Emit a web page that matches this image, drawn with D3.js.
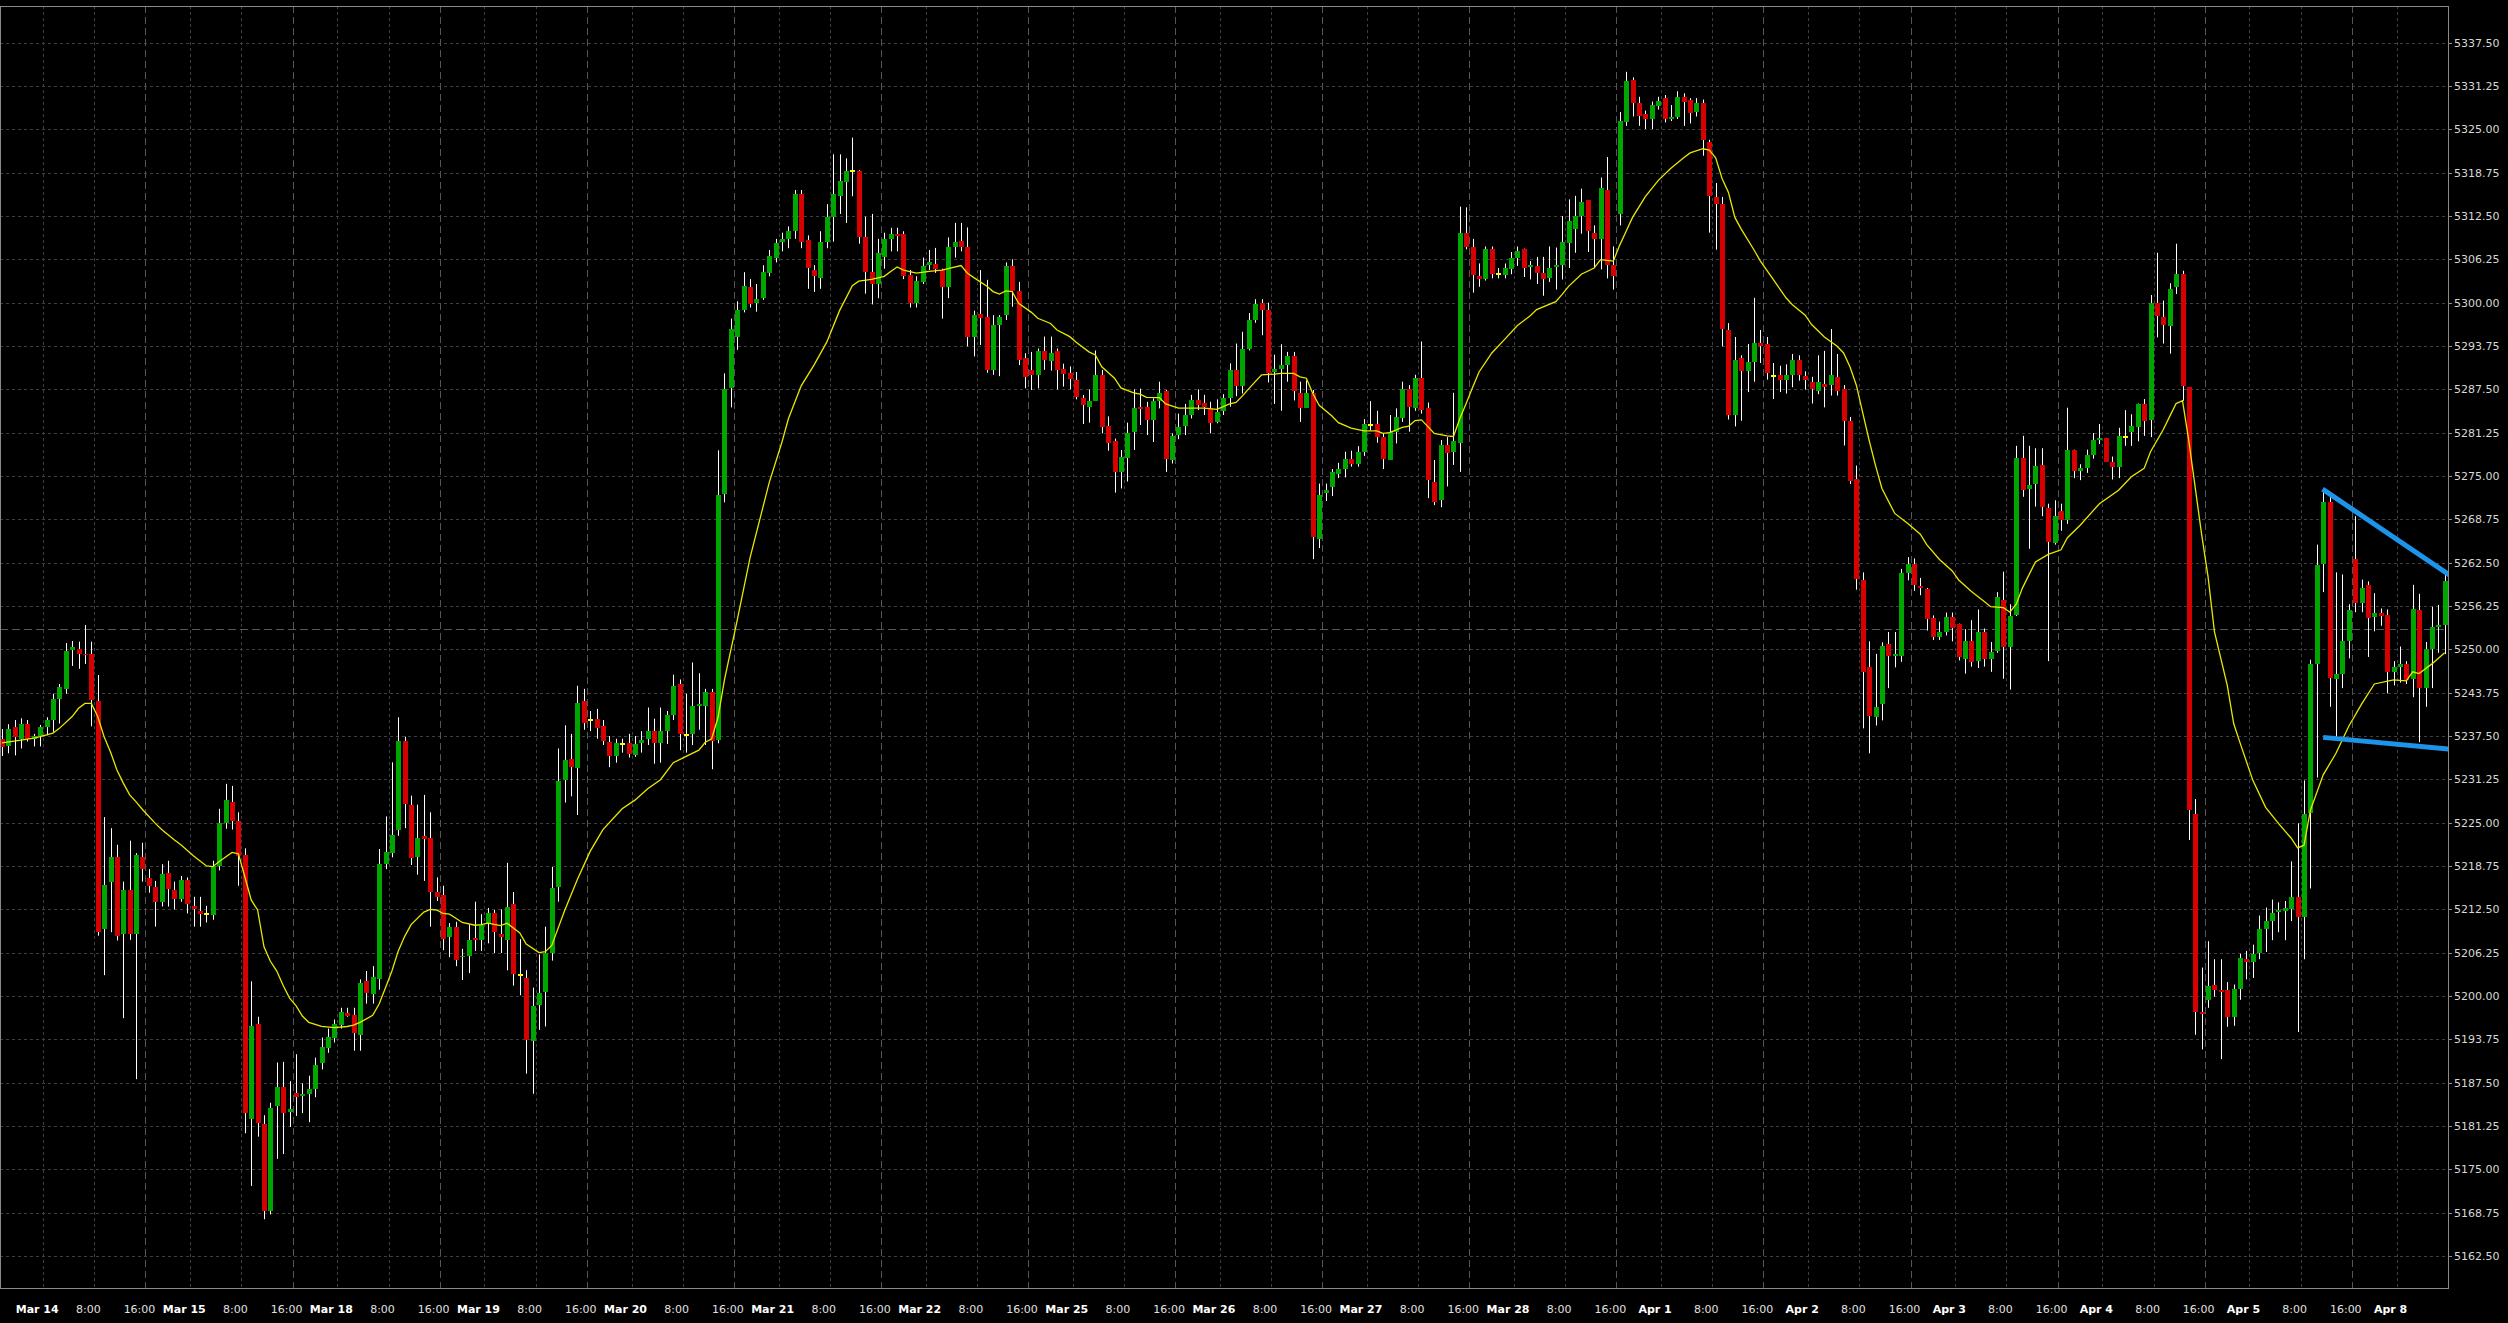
<!DOCTYPE html>
<html><head><meta charset="utf-8">
<script src="https://cdn.jsdelivr.net/npm/d3@7"></script>
<style>html,body{margin:0;padding:0;background:#000;overflow:hidden}svg{display:block}</style>
</head><body>
<script>
// ---------------- DATA (H1 candles) ----------------
const opens = [
5237.0,5236.1,5238.8,5237.1,5239.2,5237.1,5237.5,5238.8,5239.8,5242.8,
5244.3,5249.8,5250.0,5249.3,5249.3,5242.6,5209.6,5216.4,5220.0,5208.9,
5215.3,5208.9,5220.0,5217.0,5215.7,5213.6,5217.7,5215.3,5214.0,5216.7,
5213.0,5212.3,5211.8,5211.7,5218.75,5225.0,5228.0,5225.3,5220.3,5182.2,
5195.9,5181.6,5169.0,5184.0,5186.8,5183.2,5186.0,5185.6,5185.9,5186.6,
5190.3,5192.5,5193.9,5195.8,5197.6,5197.2,5194.3,5202.1,5200.3,5202.4,
5219.0,5220.6,5223.9,5236.8,5227.6,5220.0,5223.1,5222.8,5215.0,5214.6,
5208.6,5210.0,5205.5,5205.8,5208.3,5208.1,5210.3,5211.9,5208.9,5208.2,
5213.2,5203.0,5202.6,5193.5,5198.8,5200.6,5206.2,5215.6,5231.2,5234.2,
5232.8,5242.5,5239.8,5240.0,5238.9,5236.6,5234.6,5236.4,5236.45,5234.8,
5236.5,5237.1,5238.2,5236.45,5238.2,5240.5,5245.0,5237.7,5237.8,5241.8,
5241.8,5243.85,5236.8,5272.5,5287.6,5295.05,5299.0,5302.3,5300.0,5300.6,
5304.4,5306.5,5308.8,5309.2,5310.3,5315.7,5309.0,5304.7,5303.6,5308.8,
5312.4,5315.35,5317.3,5318.95,5318.95,5309.5,5304.4,5302.7,5306.6,5309.2,
5309.85,5309.85,5304.0,5299.9,5303.1,5305.5,5305.6,5304.7,5302.3,5308.05,
5308.9,5308.05,5295.05,5298.4,5297.9,5290.3,5296.8,5298.2,5305.3,5301.7,
5292.0,5290.3,5289.6,5293.0,5291.7,5293.0,5290.4,5289.8,5288.9,5286.2,
5285.0,5285.8,5289.6,5282.2,5280.05,5275.6,5277.7,5281.25,5284.9,5284.9,
5283.0,5285.8,5287.2,5277.4,5280.8,5282.2,5283.8,5286.0,5285.5,5284.75,
5282.8,5284.3,5286.2,5290.3,5288.0,5293.3,5297.5,5299.9,5298.95,5289.9,
5290.4,5291.0,5292.3,5287.0,5284.9,5287.0,5265.9,5272.6,5273.4,5275.3,
5276.0,5277.4,5276.7,5278.5,5282.35,5282.5,5280.6,5277.4,5281.4,5283.3,
5287.5,5284.9,5289.2,5284.75,5274.2,5271.6,5279.5,5278.5,5279.8,5310.1,
5308.0,5303.8,5303.5,5307.8,5304.1,5304.0,5304.8,5306.45,5307.8,5305.1,
5305.3,5304.3,5303.5,5305.1,5305.45,5308.6,5310.6,5312.5,5314.8,5310.1,
5309.2,5316.25,5305.45,5312.8,5326.0,5332.15,5328.8,5327.2,5326.5,5328.5,
5329.5,5326.5,5326.85,5329.7,5329.2,5327.5,5328.8,5323.2,5315.25,5314.3,
5296.05,5283.8,5291.95,5290.1,5291.4,5294.2,5294.05,5289.4,5289.55,5288.8,
5289.55,5291.75,5289.4,5288.6,5287.3,5288.2,5288.1,5289.3,5287.6,5282.95,
5274.5,5259.95,5247.4,5240.3,5242.1,5250.7,5249.05,5249.05,5260.95,5262.3,
5259.1,5258.65,5254.5,5251.8,5252.5,5254.7,5253.7,5248.5,5251.2,5248.3,
5252.5,5248.6,5249.65,5257.15,5250.4,5255.0,5277.65,5273.1,5273.9,5276.6,
5270.45,5265.3,5270.0,5268.65,5278.8,5275.7,5276.1,5278.0,5280.15,5280.5,
5277.0,5276.3,5280.6,5281.4,5282.2,5285.45,5283.0,5299.9,5298.0,5296.6,
5302.3,5304.1,5287.8,5226.2,5197.65,5199.4,5201.65,5200.9,5200.9,5197.0,
5201.0,5205.3,5204.9,5206.1,5209.6,5210.8,5212.1,5212.35,5212.6,5214.3,
5211.35,5226.4,5247.9,5262.2,5271.2,5245.75,5246.5,5251.2,5263.0,5256.7,
5259.3,5254.6,5255.2,5254.95,5246.8,5247.5,5247.9,5245.6,5255.6,5244.4,
5250.05,5253.25,5253.6];
const highs = [
5238.5,5239.2,5239.8,5240.05,5239.8,5237.8,5239.1,5240.2,5243.6,5245.0,
5250.9,5251.2,5251.1,5253.5,5251.1,5246.3,5225.8,5224.2,5221.8,5216.5,
5222.4,5220.6,5222.1,5218.3,5216.6,5219.0,5219.5,5216.5,5217.3,5217.1,
5214.3,5214.3,5213.0,5219.5,5227.0,5230.6,5230.3,5226.5,5221.3,5202.1,
5197.0,5182.8,5184.6,5190.4,5190.5,5187.7,5191.6,5187.4,5188.5,5191.1,
5194.0,5195.3,5196.6,5198.3,5198.3,5198.3,5202.4,5203.6,5204.3,5221.2,
5225.9,5233.7,5240.2,5237.4,5228.9,5227.6,5229.0,5226.5,5217.1,5215.9,
5210.5,5210.7,5206.8,5210.3,5213.6,5211.8,5212.7,5212.4,5212.5,5219.2,
5215.0,5208.2,5203.7,5201.2,5206.0,5210.0,5218.6,5235.7,5239.05,5237.8,
5244.75,5244.3,5241.1,5241.4,5239.8,5237.5,5237.1,5237.1,5237.8,5237.5,
5238.2,5241.6,5240.0,5241.6,5241.1,5246.35,5245.65,5243.6,5248.1,5246.55,
5244.3,5244.3,5278.7,5289.8,5297.7,5300.2,5304.4,5303.4,5302.7,5305.4,
5307.6,5309.2,5310.1,5311.0,5316.25,5316.25,5309.7,5305.4,5310.3,5314.2,
5321.4,5321.4,5320.8,5323.8,5319.1,5312.4,5312.8,5309.2,5310.1,5310.8,
5310.8,5310.3,5304.7,5303.8,5306.5,5307.6,5307.9,5304.9,5309.4,5311.5,
5311.5,5310.85,5298.85,5304.7,5303.3,5298.2,5298.2,5305.8,5306.25,5303.0,
5292.7,5292.9,5293.4,5295.1,5295.1,5293.4,5291.2,5290.8,5290.0,5286.7,
5287.5,5293.1,5290.3,5283.6,5280.4,5278.75,5282.7,5287.5,5287.6,5285.7,
5286.2,5288.6,5287.4,5281.15,5284.0,5285.4,5286.7,5287.5,5286.7,5285.7,
5286.05,5286.8,5291.25,5294.1,5295.8,5298.5,5300.5,5300.5,5300.0,5292.5,
5294.0,5292.9,5292.9,5288.6,5288.8,5287.4,5273.9,5273.9,5276.0,5276.9,
5278.5,5278.65,5279.3,5283.2,5285.8,5284.4,5281.2,5283.8,5284.75,5288.6,
5288.1,5289.6,5294.4,5285.6,5277.3,5280.2,5280.6,5287.0,5313.85,5313.75,
5309.2,5305.65,5308.1,5308.1,5305.0,5305.65,5307.3,5308.1,5307.8,5306.0,
5306.6,5306.6,5308.1,5307.95,5312.5,5314.9,5315.4,5316.45,5314.8,5311.15,
5318.05,5321.0,5308.1,5327.5,5333.3,5332.5,5329.7,5327.7,5329.0,5329.7,
5329.95,5328.5,5330.5,5330.2,5329.5,5329.5,5329.3,5323.5,5317.25,5315.25,
5297.05,5295.05,5292.4,5294.05,5300.7,5296.05,5295.05,5291.3,5290.9,5291.1,
5292.6,5292.4,5290.1,5289.3,5292.4,5293.05,5296.2,5292.6,5288.1,5283.5,
5276.5,5261.1,5251.15,5249.35,5251.0,5252.5,5252.5,5261.6,5263.3,5263.1,
5260.3,5258.85,5254.9,5254.0,5255.3,5255.3,5253.7,5252.9,5254.2,5255.75,
5253.0,5251.05,5258.25,5261.2,5256.5,5279.35,5280.8,5279.35,5279.0,5279.0,
5271.0,5271.5,5271.0,5284.85,5278.8,5276.7,5278.8,5281.2,5282.5,5280.5,
5277.8,5281.95,5284.5,5283.9,5285.45,5286.1,5301.1,5307.2,5300.3,5302.8,
5308.5,5304.6,5287.8,5228.4,5204.1,5207.9,5205.3,5205.3,5202.0,5201.65,
5206.1,5206.5,5207.4,5211.6,5212.75,5213.9,5213.5,5213.7,5219.4,5224.9,
5231.1,5248.5,5265.1,5272.95,5272.3,5261.1,5260.8,5256.5,5269.2,5260.05,
5259.8,5258.1,5255.9,5255.75,5248.3,5250.4,5248.3,5259.3,5258.0,5251.05,
5256.15,5256.4,5260.7];
const lows = [
5234.6,5235.0,5234.7,5235.7,5236.7,5236.0,5236.0,5237.6,5238.1,5239.3,
5243.6,5247.6,5247.2,5247.9,5238.9,5208.7,5203.0,5209.2,5208.0,5196.8,
5208.1,5188.0,5216.5,5214.9,5210.0,5212.9,5212.9,5212.5,5213.6,5211.9,
5210.0,5210.0,5210.6,5211.0,5218.1,5224.1,5224.0,5215.9,5180.2,5172.6,
5179.7,5167.8,5168.5,5176.5,5177.2,5181.1,5182.7,5183.1,5181.8,5185.4,
5189.4,5191.8,5193.3,5195.3,5197.0,5192.1,5192.1,5198.9,5198.9,5200.9,
5218.3,5220.0,5223.1,5224.2,5218.9,5217.5,5216.6,5210.0,5213.7,5206.6,
5205.6,5204.3,5202.3,5203.3,5206.5,5206.5,5207.6,5206.2,5206.2,5203.7,
5201.5,5200.1,5188.8,5185.9,5195.1,5195.6,5205.1,5213.6,5227.9,5228.8,
5226.1,5238.4,5238.2,5237.1,5236.2,5233.0,5233.65,5235.1,5234.4,5234.5,
5235.1,5236.2,5233.5,5233.65,5236.35,5239.8,5235.45,5235.1,5236.2,5238.4,
5236.2,5232.7,5236.45,5271.2,5284.9,5293.2,5298.6,5299.3,5298.7,5300.4,
5303.8,5305.8,5307.4,5307.85,5309.2,5307.85,5302.0,5301.55,5302.0,5307.85,
5308.8,5312.8,5311.5,5315.35,5308.5,5301.3,5299.75,5300.65,5304.9,5307.4,
5307.4,5303.4,5299.3,5299.3,5302.7,5304.7,5304.3,5297.7,5300.65,5306.5,
5307.4,5293.7,5292.25,5293.9,5289.9,5289.6,5289.4,5297.5,5299.4,5291.0,
5287.65,5287.4,5287.65,5290.3,5290.2,5287.5,5287.9,5287.5,5286.05,5282.5,
5282.7,5285.8,5281.15,5278.65,5272.6,5273.2,5274.2,5278.75,5282.35,5280.9,
5279.9,5284.75,5275.6,5276.8,5280.3,5280.9,5283.3,5284.5,5283.8,5281.15,
5282.6,5283.8,5285.0,5286.5,5286.9,5293.1,5297.1,5295.3,5288.5,5285.4,
5284.4,5288.6,5285.9,5282.8,5284.9,5263.0,5264.6,5271.4,5272.1,5274.7,
5274.8,5276.35,5276.35,5277.9,5281.6,5279.8,5276.0,5277.4,5279.7,5282.8,
5281.4,5284.4,5284.0,5271.8,5270.8,5270.5,5273.5,5276.6,5275.6,5307.7,
5301.45,5302.3,5303.2,5303.5,5303.5,5303.5,5304.1,5305.3,5303.7,5303.35,
5302.7,5301.0,5303.0,5301.9,5303.35,5305.0,5307.2,5309.95,5307.3,5305.0,
5304.8,5303.5,5301.9,5311.15,5325.5,5326.85,5325.5,5325.05,5325.05,5327.85,
5326.0,5326.2,5326.5,5325.5,5325.85,5326.85,5321.2,5310.1,5307.65,5293.7,
5283.15,5282.15,5282.95,5287.1,5288.6,5291.3,5288.9,5286.1,5287.1,5286.9,
5287.8,5288.75,5287.45,5285.45,5286.8,5284.9,5286.6,5286.6,5279.4,5273.85,
5258.6,5238.6,5235.0,5239.0,5239.75,5244.4,5247.4,5248.2,5259.95,5258.45,
5257.8,5252.7,5251.35,5251.35,5252.0,5251.15,5248.4,5246.5,5247.5,5247.3,
5247.5,5246.75,5249.5,5245.75,5244.2,5254.8,5272.0,5264.5,5270.6,5269.2,
5248.3,5265.1,5267.1,5268.1,5274.7,5274.4,5275.45,5277.5,5279.6,5277.0,
5274.5,5274.7,5279.35,5279.35,5280.0,5280.8,5280.6,5295.0,5294.1,5292.65,
5301.25,5285.85,5222.5,5194.4,5192.3,5198.3,5199.9,5190.9,5195.55,5195.7,
5199.45,5202.4,5202.6,5205.3,5206.35,5208.05,5209.2,5208.05,5210.8,5194.8,
5205.3,5215.5,5231.5,5258.25,5241.7,5237.4,5244.4,5248.7,5255.35,5255.35,
5248.9,5252.6,5253.4,5243.65,5244.8,5245.2,5245.0,5243.1,5236.6,5241.7,
5244.4,5249.5,5249.3];
const closes = [
5235.9,5238.5,5237.3,5239.2,5237.1,5237.5,5238.8,5239.8,5242.8,5244.5,
5249.8,5250.3,5249.3,5249.1,5242.6,5209.3,5216.0,5220.0,5208.6,5215.3,
5208.9,5220.3,5218.2,5215.8,5213.6,5217.6,5215.45,5214.0,5216.7,5213.3,
5212.6,5211.9,5211.8,5218.75,5224.9,5228.3,5225.3,5220.2,5183.1,5195.6,
5181.6,5169.0,5183.8,5186.8,5183.1,5183.7,5185.4,5185.9,5186.6,5190.1,
5192.6,5194.1,5195.9,5197.7,5197.2,5194.6,5201.8,5200.3,5202.7,5219.0,
5220.8,5223.2,5236.8,5227.7,5220.0,5222.8,5222.6,5215.0,5214.3,5208.3,
5210.0,5205.2,5205.7,5208.1,5208.0,5210.3,5211.9,5209.1,5208.4,5212.9,
5203.1,5203.0,5193.6,5198.5,5200.5,5206.2,5215.6,5230.95,5234.1,5233.0,
5242.2,5239.3,5239.8,5238.7,5236.8,5234.6,5236.45,5236.4,5234.8,5236.35,
5236.9,5238.2,5236.45,5238.2,5240.5,5244.75,5237.8,5237.7,5241.8,5242.05,
5243.85,5236.8,5272.2,5287.6,5296.15,5299.0,5302.45,5299.9,5300.6,5304.4,
5306.8,5308.6,5309.2,5310.3,5315.7,5308.8,5305.0,5303.8,5308.8,5312.4,
5315.7,5317.5,5318.95,5318.95,5309.5,5304.4,5302.7,5307.2,5309.2,5309.85,
5309.5,5303.8,5299.9,5303.1,5305.35,5305.9,5304.9,5302.3,5308.05,5308.8,
5308.05,5295.05,5298.2,5297.8,5290.3,5296.8,5298.0,5305.3,5301.7,5291.8,
5289.3,5289.6,5293.0,5291.7,5292.8,5290.3,5289.7,5288.9,5286.5,5285.2,
5285.8,5289.6,5282.1,5279.8,5275.6,5277.7,5281.25,5284.75,5284.6,5283.0,
5285.8,5287.0,5277.4,5280.8,5282.0,5283.8,5286.0,5285.25,5284.9,5282.6,
5284.3,5286.2,5290.3,5288.0,5293.3,5297.5,5299.8,5298.85,5289.8,5290.4,
5291.0,5292.3,5287.3,5284.9,5287.0,5266.2,5272.3,5273.0,5275.6,5276.0,
5277.4,5276.7,5278.5,5282.5,5282.35,5280.6,5277.4,5281.4,5283.5,5287.5,
5284.9,5289.2,5284.6,5274.3,5271.3,5279.5,5278.4,5280.1,5310.1,5308.1,
5303.9,5303.35,5307.8,5304.2,5304.1,5305.0,5306.45,5307.45,5305.0,5305.4,
5304.3,5303.5,5305.0,5305.4,5308.8,5311.8,5312.5,5314.5,5310.3,5309.2,
5316.6,5305.45,5303.8,5326.2,5331.95,5328.8,5326.95,5326.5,5328.5,5329.15,
5326.5,5326.85,5329.7,5329.0,5327.3,5328.8,5323.5,5315.4,5314.3,5296.2,
5283.8,5291.75,5290.1,5291.4,5294.2,5293.75,5289.8,5289.4,5288.8,5289.55,
5291.75,5289.55,5288.8,5287.6,5288.6,5287.8,5289.55,5287.3,5282.95,5274.3,
5260.1,5246.7,5240.3,5241.75,5250.5,5248.9,5249.3,5260.95,5262.3,5259.3,
5258.85,5254.35,5251.8,5252.5,5254.7,5253.15,5248.9,5251.15,5248.1,5252.5,
5248.6,5249.65,5257.5,5250.4,5254.8,5277.65,5273.1,5273.7,5276.5,5270.6,
5265.5,5269.2,5268.65,5278.8,5275.7,5276.1,5278.0,5280.15,5280.5,5277.0,
5276.3,5280.8,5280.6,5282.2,5285.45,5282.95,5299.9,5298.0,5296.8,5302.0,
5304.2,5288.0,5226.8,5197.65,5197.3,5201.4,5201.0,5200.6,5197.0,5201.0,
5205.45,5204.9,5206.1,5209.6,5210.8,5211.95,5212.35,5212.75,5214.3,5211.35,
5226.2,5247.9,5262.2,5271.2,5245.75,5246.5,5251.2,5255.6,5256.7,5258.9,
5254.6,5255.2,5254.8,5246.8,5247.5,5247.9,5245.6,5255.75,5244.4,5250.05,
5253.25,5253.5,5259.9];

// Moving average (yellow line) at these bars
const maBars = [0,3,5,6,8,9,11,12,13,14,15,16,17,18,19,20,21,22,24,25,27,28,30,32,33,34,36,37,38,39,
40,41,42,43,44,45,46,47,48,50,52,54,55,56,58,59,60,61,62,63,64,66,67,68,69,70,71,72,74,75,76,78,79,81,82,84,85,86,88,
90,92,94,97,99,101,103,105,107,109,110,111,112,113,115,117,120,122,123,125,127,129,131,133,134,136,138,139,140,141,143,145,147,150,151,
153,154,155,156,157,158,159,161,162,164,165,167,168,170,171,172,174,175,177,178,179,181,182,184,186,188,190,192,193,194,195,197,199,200,202,203,204,
205,206,208,209,211,213,215,216,217,219,220,221,222,224,226,227,228,229,230,231,233,235,237,239,240,243,244,245,247,249,250,252,253,254,255,257,259,
261,263,264,266,267,268,269,270,271,272,274,275,277,279,280,282,283,285,287,288,289,290,291,292,293,294,296,298,300,301,303,305,306,308,310,311,312,
313,314,315,316,318,320,322,323,325,328,331,333,335,336,338,339,340,341,342,344,345,346,348,349,350,352,354,356,358,359,360,361,363,365,367,369,371,
374,376,377,378,380,382];
const maValues = [5236.5,5236.9,5237.2,5237.4,5237.9,5238.6,5240.3,5241.5,5242.2,5242.2,5240.3,5237.4,5235.2,5232.6,5230.7,5229.0,5228.0,5226.9,5224.9,5224.0,5222.5,5221.8,5220.2,5218.75,5218.65,5219.4,5220.7,5220.5,5217.2,5213.85,
5212.4,5207.1,5205.0,5203.6,5201.5,5199.7,5198.6,5197.1,5196.2,5195.6,5195.45,5195.6,5195.8,5196.2,5197.2,5198.85,5201.2,5203.6,5206.5,5208.6,5210.3,5212.1,5212.5,5212.4,5211.9,5211.8,5211.2,5210.6,5210.2,5210.3,5210.5,5210.15,5210.5,5209.1,5207.5,5206.25,5206.4,5207.3,5212.3,
5216.8,5220.85,5224.0,5227.0,5228.25,5229.9,5231.2,5233.65,5234.55,5235.45,5236.6,5237.1,5240.2,5245.6,5254.2,5263.2,5274.05,5279.9,5283.25,5288.0,5291.0,5294.3,5298.85,5302.45,5303.1,5303.35,5303.8,5304.5,5305.15,5304.7,5304.25,5304.5,5304.7,5305.35,5304.25,
5303.0,5302.4,5301.6,5301.25,5301.7,5301.6,5299.9,5298.6,5297.75,5297.0,5296.05,5295.1,5294.3,5292.9,5292.45,5290.75,5289.1,5287.7,5287.0,5286.8,5286.35,5286.3,5285.4,5284.8,5284.8,5284.8,5284.6,5285.4,5285.6,5286.55,5287.6,5289.6,5289.7,5289.8,5289.8,5289.3,5289.1,
5286.9,5285.2,5283.65,5282.7,5281.9,5281.5,5281.5,5281.15,5281.25,5282.0,5282.2,5283.0,5283.1,5281.15,5280.8,5280.7,5283.3,5285.5,5287.8,5290.0,5292.75,5294.7,5296.7,5298.1,5299.0,5300.15,5301.2,5302.35,5304.1,5305.0,5306.2,5306.0,5308.3,5310.3,5312.3,5315.3,5317.6,
5319.4,5320.9,5321.6,5322.2,5322.0,5320.9,5317.9,5315.9,5312.3,5310.6,5307.6,5306.0,5303.35,5300.7,5299.7,5298.2,5296.85,5295.05,5293.7,5292.75,5290.75,5288.1,5284.1,5280.15,5276.5,5273.2,5269.6,5268.2,5266.6,5265.1,5262.95,5261.3,5260.0,5258.35,5256.9,5256.15,5256.1,
5256.0,5255.35,5256.5,5258.9,5262.6,5263.7,5264.35,5266.1,5267.9,5271.0,5272.95,5274.9,5276.1,5278.5,5281.7,5283.6,5285.45,5285.85,5280.0,5266.5,5260.45,5252.5,5244.8,5239.3,5236.5,5231.1,5227.2,5224.9,5222.75,5221.35,5221.75,5226.8,5231.9,5235.0,5238.9,5242.1,5245.0,
5245.6,5245.45,5246.75,5246.5,5247.9,5249.5];

// Axis labels
const priceTicks = [5162.50,5168.75,5175.00,5181.25,5187.50,5193.75,5200.00,5206.25,5212.50,5218.75,5225.00,5231.25,5237.50,5243.75,5250.00,5256.25,5262.50,5268.75,5275.00,5281.25,5287.50,5293.75,5300.00,5306.25,5312.50,5318.75,5325.00,5331.25,5337.50];
const dayLabels = ["Mar 14","Mar 15","Mar 18","Mar 19","Mar 20","Mar 21","Mar 22","Mar 25","Mar 26","Mar 27","Mar 28","Apr 1","Apr 2","Apr 3","Apr 4","Apr 5","Apr 8"];
const hourLabels = ["8:00","16:00"];
const hourBarOffsets = [8,16];
const firstDayBar = 6;      // bar index of "Mar 14" 0:00
const barsPerDay = 23;      // 23 hourly bars per trading day

// Drawn objects (bar index, price)
const upperLineBars = [362.9, 382.8], upperLinePrices = [5273.1, 5260.7];
const lowerLineBars = [363.0, 382.8], lowerLinePrices = [5237.3, 5235.6];
const hLineLevel = 5253.0;

// ---------------- DRAWING ----------------
const W = 2508, H = 1323;
const P = {left:0, right:2448, top:6, bottom:1288};
const svg = d3.select("body").append("svg").attr("width", W).attr("height", H)
  .style("background", "#000");

const n = opens.length;
const x = d3.scaleLinear().domain([0, 382]).range([1.8, 2444.7]);
const y = d3.scaleLinear().domain([5157.88, 5342.79]).range([P.bottom, P.top]);

svg.append("defs").append("clipPath").attr("id","plot")
  .append("rect").attr("x",P.left).attr("y",P.top).attr("width",P.right-P.left).attr("height",P.bottom-P.top);

// time label positions
const timeMarks = [];
dayLabels.forEach((d, k) => {
  const b0 = firstDayBar + k*barsPerDay;
  timeMarks.push({bar:b0, text:d, bold:true, sep:false});
  hourLabels.forEach((h, j) => timeMarks.push({bar:b0+hourBarOffsets[j], text:h, bold:false, sep: h==="16:00"}));
});
const visMarks = timeMarks.filter(m => m.bar >= 0 && m.bar <= 378);

const grid = svg.append("g");
// horizontal grid
grid.selectAll("line.h").data(priceTicks).join("line")
  .attr("x1", P.left).attr("x2", P.right)
  .attr("y1", d => Math.round(y(d)) + 0.5).attr("y2", d => Math.round(y(d)) + 0.5)
  .attr("stroke", "#3f3f3f").attr("stroke-width", 1).attr("stroke-dasharray", "3,3");
// vertical grid
grid.selectAll("line.v").data(visMarks).join("line")
  .attr("x1", d => Math.round(x(d.bar) + 3) + 0.5).attr("x2", d => Math.round(x(d.bar) + 3) + 0.5)
  .attr("y1", P.top).attr("y2", P.bottom)
  .attr("stroke", d => d.sep ? "#555" : "#3f3f3f").attr("stroke-width", 1)
  .attr("stroke-dasharray", d => d.sep ? "7,4" : "3,3");
// horizontal level line
grid.append("line").attr("x1", P.left).attr("x2", P.right)
  .attr("y1", Math.round(y(hLineLevel)) + 0.5).attr("y2", Math.round(y(hLineLevel)) + 0.5)
  .attr("stroke", "#585858").attr("stroke-width", 1).attr("stroke-dasharray", "8,4");

const plot = svg.append("g").attr("clip-path", "url(#plot)");
const idx = d3.range(n);

// wicks
plot.append("g").selectAll("line").data(idx).join("line")
  .attr("x1", i => Math.round(x(i)) + 0.5).attr("x2", i => Math.round(x(i)) + 0.5)
  .attr("y1", i => y(highs[i])).attr("y2", i => y(lows[i]))
  .attr("stroke", "#ffffff").attr("stroke-width", 1);

// bodies
const bw = 5;
const nonDoji = idx.filter(i => opens[i] !== closes[i]);
const doji = idx.filter(i => opens[i] === closes[i]);
plot.append("g").selectAll("rect").data(nonDoji).join("rect")
  .attr("x", i => Math.round(x(i)) - 2)
  .attr("width", bw)
  .attr("y", i => Math.round(y(Math.max(opens[i], closes[i]))))
  .attr("height", i => Math.max(1, Math.round(Math.abs(y(opens[i]) - y(closes[i])))))
  .attr("fill", i => closes[i] > opens[i] ? "#00a600" : "#d60000");
plot.append("g").selectAll("rect").data(doji).join("rect")
  .attr("x", i => Math.round(x(i)) - 2).attr("width", bw)
  .attr("y", i => Math.round(y(opens[i])) - 1).attr("height", 2)
  .attr("fill", "#ffff00");

// moving average
const maLine = d3.line().x((d, k) => x(maBars[k])).y(d => y(d));
plot.append("path").attr("d", maLine(maValues))
  .attr("fill", "none").attr("stroke", "#e8e800").attr("stroke-width", 1.3);

// trend lines
[[upperLineBars, upperLinePrices],[lowerLineBars, lowerLinePrices]].forEach(([bs, ps]) => {
  plot.append("line")
    .attr("x1", x(bs[0])).attr("y1", y(ps[0])).attr("x2", x(bs[1])).attr("y2", y(ps[1]))
    .attr("stroke", "#1e93ea").attr("stroke-width", 5);
});

// frame
svg.append("rect").attr("x", P.left + 0.5).attr("y", P.top + 0.5)
  .attr("width", P.right - P.left).attr("height", P.bottom - P.top)
  .attr("fill", "none").attr("stroke", "#8a8a8a").attr("stroke-width", 1);

// price axis
const pa = svg.append("g");
pa.selectAll("line").data(priceTicks).join("line")
  .attr("x1", P.right).attr("x2", P.right + 4)
  .attr("y1", d => Math.round(y(d)) + 0.5).attr("y2", d => Math.round(y(d)) + 0.5)
  .attr("stroke", "#8a8a8a");
pa.selectAll("text").data(priceTicks).join("text")
  .attr("x", P.right + 6).attr("y", d => y(d) + 4)
  .attr("fill", "#d8d8d8").attr("font-family", "DejaVu Sans, Verdana, sans-serif").attr("font-size", 11)
  .text(d => d3.format(".2f")(d));

// time axis labels
svg.append("g").selectAll("text").data(visMarks).join("text")
  .attr("x", d => x(d.bar) - 3).attr("y", 1313)
  .attr("text-anchor", "middle")
  .attr("fill", d => d.bold ? "#ffffff" : "#e0e0e0")
  .attr("font-weight", d => d.bold ? "bold" : "normal")
  .attr("font-family", "DejaVu Sans, Verdana, sans-serif").attr("font-size", 11)
  .text(d => d.text);
</script>
</body></html>
